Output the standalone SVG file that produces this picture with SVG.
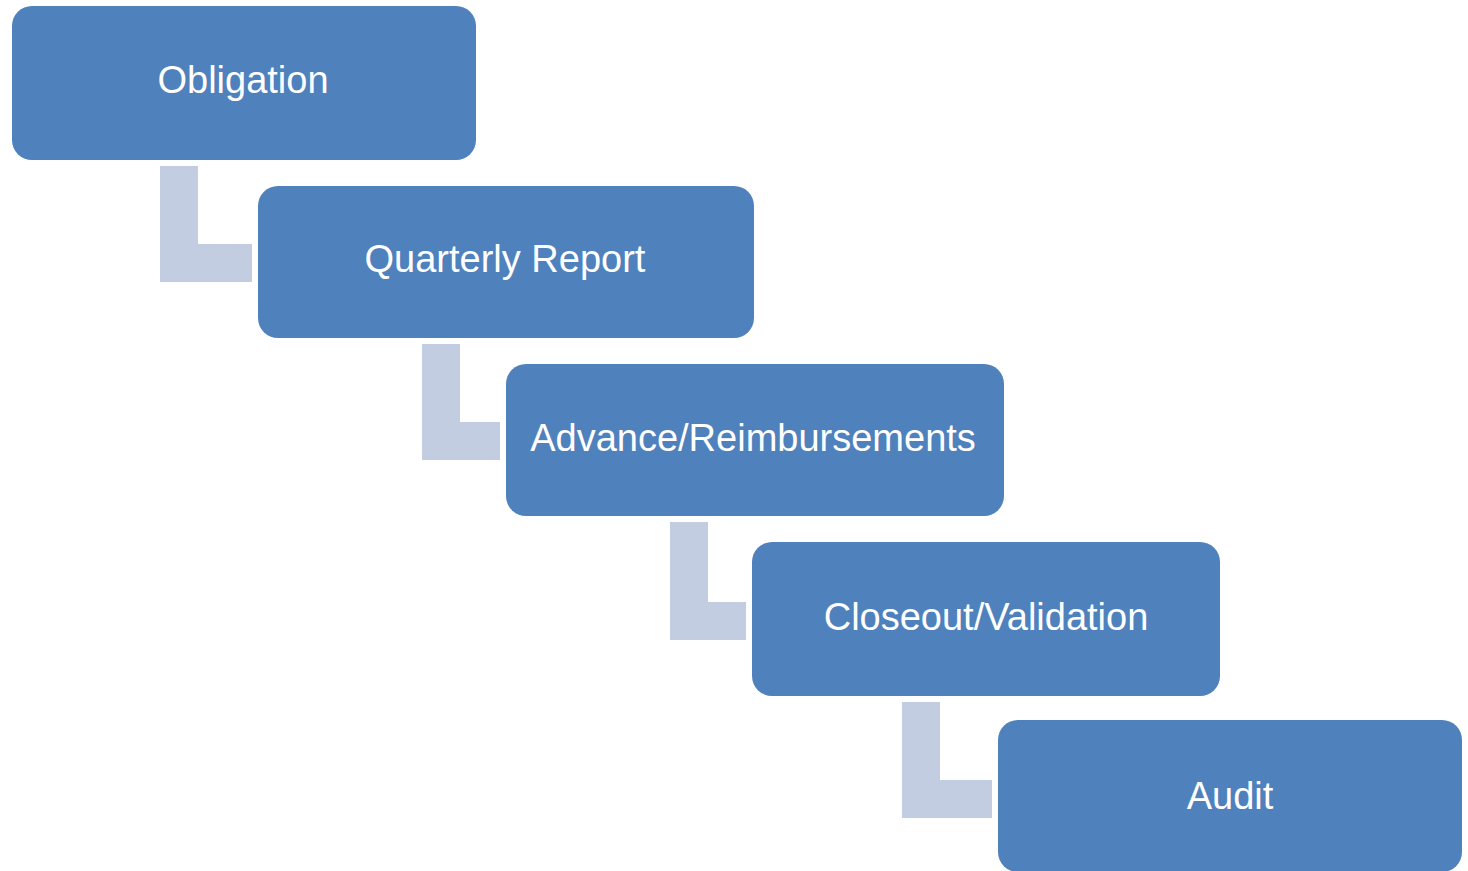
<svg xmlns="http://www.w3.org/2000/svg" width="1468" height="871" viewBox="0 0 1468 871">
<style>
.box{fill:#4F81BD}
.conn{fill:#C2CDE1}
.lbl{fill:#FFFFFF;font-family:"Liberation Sans",Arial,sans-serif;font-size:38px;text-anchor:middle}
</style>
<rect width="1468" height="871" fill="#FFFFFF"/>
<g id="connectors">
<path class="conn" d="M160 166H198V244H252V282H160Z"/>
<path class="conn" d="M422 344H460V422H500V460H422Z"/>
<path class="conn" d="M670 522H708V602H746V640H670Z"/>
<path class="conn" d="M902 702H940V780H992V818H902Z"/>
</g>
<g id="obligation"><rect class="box" x="12" y="6" width="464" height="154" rx="20"/><text class="lbl" x="243" y="93">Obligation</text></g>
<g id="quarterly-report"><rect class="box" x="258" y="186" width="496" height="152" rx="20"/><text class="lbl" x="505" y="272">Quarterly Report</text></g>
<g id="advance-reimbursements"><rect class="box" x="506" y="364" width="498" height="152" rx="20"/><text class="lbl" x="753" y="451">Advance/Reimbursements</text></g>
<g id="closeout-validation"><rect class="box" x="752" y="542" width="468" height="154" rx="20"/><text class="lbl" x="986" y="630">Closeout/Validation</text></g>
<g id="audit"><rect class="box" x="998" y="720" width="464" height="152" rx="20"/><text class="lbl" x="1230" y="809">Audit</text></g>
</svg>
